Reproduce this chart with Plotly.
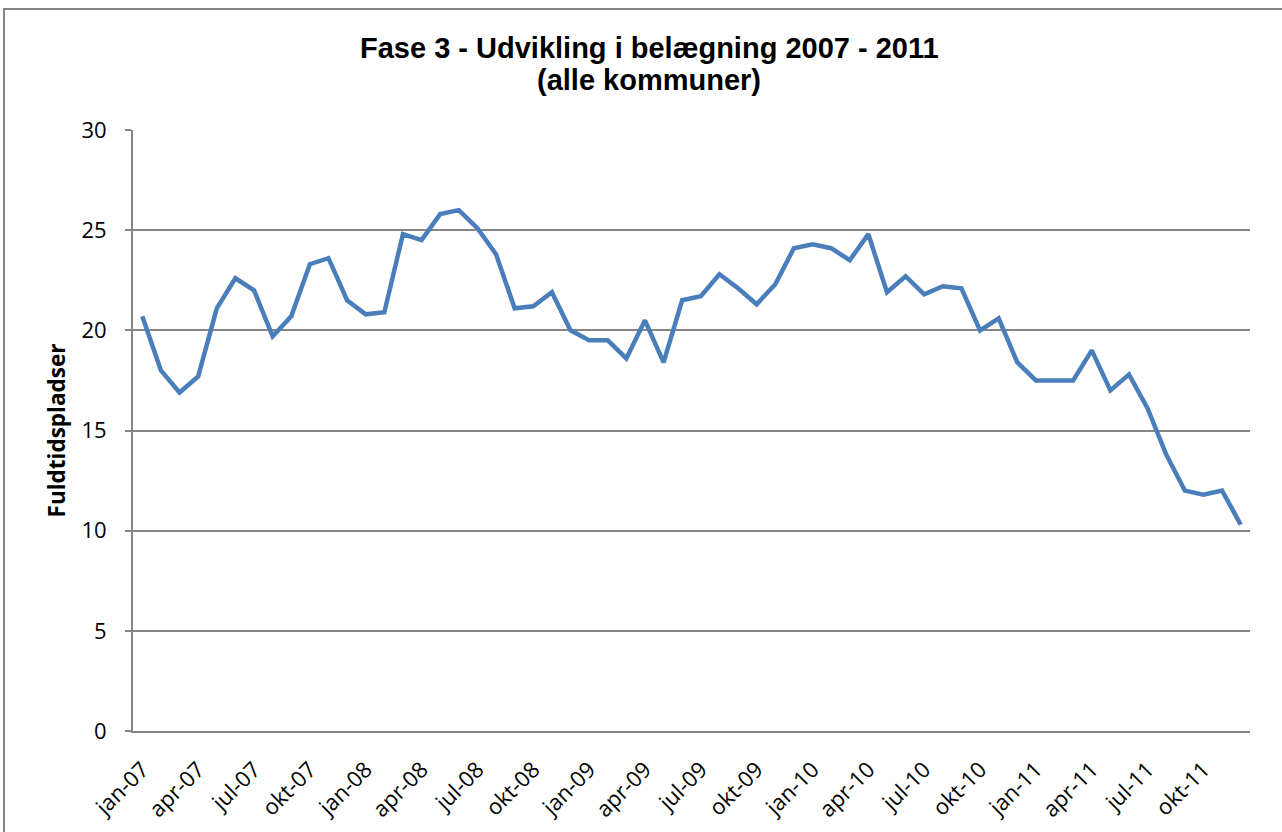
import plotly.graph_objects as go

months = ["jan", "feb", "mar", "apr", "maj", "jun", "jul", "aug", "sep", "okt", "nov", "dec"]
years = ["07", "08", "09", "10", "11"]
categories = [f"{m}-{y}" for y in years for m in months]

values = [
    20.7, 18.0, 16.9, 17.7, 21.1, 22.6, 22.0, 19.7, 20.7, 23.3, 23.6, 21.5,
    20.8, 20.9, 24.8, 24.5, 25.8, 26.0, 25.1, 23.8, 21.1, 21.2, 21.9, 20.0,
    19.5, 19.5, 18.6, 20.5, 18.4, 21.5, 21.7, 22.8, 22.1, 21.3, 22.3, 24.1,
    24.3, 24.1, 23.5, 24.8, 21.9, 22.7, 21.8, 22.2, 22.1, 20.0, 20.6, 18.4,
    17.5, 17.5, 17.5, 19.0, 17.0, 17.8, 16.1, 13.8, 12.0, 11.8, 12.0, 10.3,
]

title_lines = ["Fase 3 - Udvikling i belægning 2007 - 2011", "(alle kommuner)"]

tick_idx = list(range(0, 60, 3))
tick_labels = [categories[i] for i in tick_idx]
y_ticks = [0, 5, 10, 15, 20, 25, 30]

x_idx = list(range(len(values)))

fig = go.Figure()
fig.add_trace(go.Scatter(
    x=x_idx, y=values, mode="lines",
    line=dict(color="#4A7EBB", width=4.5),
    hoverinfo="skip", showlegend=False,
))

W, H = 1282, 832
L, R, T, B = 133, 32, 130, 101
pw, ph = W - L - R, H - T - B

def px_x(p):
    return (p - L) / pw

def px_y(p):
    return (H - B - p) / ph

annotations = []
for line, yc in zip(title_lines, [48, 80]):
    annotations.append(dict(
        text=f"<b>{line}</b>", showarrow=False,
        xref="paper", yref="paper", x=px_x(649), y=px_y(yc),
        xanchor="center", yanchor="middle",
        font=dict(family="Liberation Sans, Arial", size=29, color="black"),
    ))

fig.update_layout(
    width=W, height=H,
    margin=dict(l=L, r=R, t=T, b=B, autoexpand=False),
    paper_bgcolor="white", plot_bgcolor="white",
    annotations=annotations,
    xaxis=dict(
        range=[-0.5, 59.5],
        tickmode="array", tickvals=tick_idx, ticktext=tick_labels,
        tickangle=-45,
        tickfont=dict(family="Open Sans", size=22, color="black"),
        showgrid=False, zeroline=False,
        showline=True, linecolor="#868686", linewidth=2,
        ticks="", ticklabelstandoff=15,
        automargin=False,
        fixedrange=True,
    ),
    yaxis=dict(
        range=[0, 30],
        tickmode="array", tickvals=y_ticks,
        tickfont=dict(family="Open Sans", size=22, color="black"),
        showgrid=True, gridcolor="#868686", gridwidth=1.5,
        zeroline=False,
        showline=True, linecolor="#868686", linewidth=2,
        ticks="outside", ticklen=6, tickcolor="#868686", tickwidth=1.5,
        ticklabelstandoff=14,
        title=dict(text="<b>Fuldtidspladser</b>",
                   font=dict(family="Open Sans", size=22.5, color="black"),
                   standoff=10),
        automargin=False,
        fixedrange=True,
    ),
    shapes=[dict(
        type="rect", xref="paper", yref="paper",
        x0=px_x(4), x1=px_x(1300), y0=px_y(850), y1=px_y(9),
        line=dict(color="#868686", width=2), fillcolor="rgba(0,0,0,0)",
        layer="below",
    )],
)

fig.write_html(
    "out.html",
    config={"displayModeBar": False},
    post_script="document.body.style.margin='0';document.body.style.overflow='hidden';",
)
